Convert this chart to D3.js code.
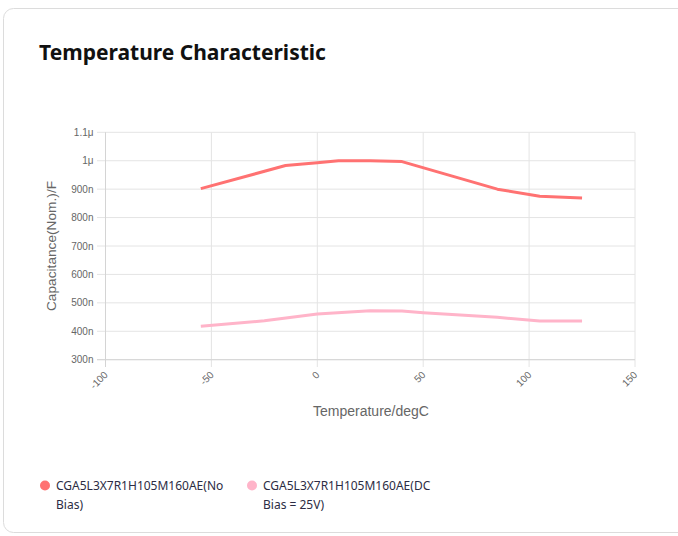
<!DOCTYPE html>
<html><head><meta charset="utf-8">
<script src="https://cdn.jsdelivr.net/npm/d3@7/dist/d3.min.js"></script>
<style>
body{margin:0;background:#fff;}
svg{display:block;}
</style></head>
<body>
<svg id="c" width="678" height="536"></svg>
<script>
const title = "Temperature Characteristic";
const xTicks = [-100, -50, 0, 50, 100, 150];
const yTicks = [300e-9, 400e-9, 500e-9, 600e-9, 700e-9, 800e-9, 900e-9, 1e-6, 1.1e-6];
const yTickLabels = ["300n","400n","500n","600n","700n","800n","900n","1μ","1.1μ"];
const seriesNames = ["CGA5L3X7R1H105M160AE(No Bias)", "CGA5L3X7R1H105M160AE(DC Bias = 25V)"];
const tempNoBias = [-55, -15, 0, 10, 25, 40, 85, 105, 125];
const capNoBias = [902e-9, 983e-9, 993e-9, 1000e-9, 1000e-9, 997e-9, 900e-9, 875e-9, 869e-9];
const tempDC = [-55, -25, 0, 25, 40, 50, 85, 105, 125];
const capDC = [418e-9, 437e-9, 461e-9, 472e-9, 471e-9, 465e-9, 449e-9, 436e-9, 436e-9];
const colors = ["#ff7272", "#ffb4c9"];

const svg = d3.select("#c");
// card
svg.append("rect").attr("x",3.5).attr("y",8.5).attr("width",700).attr("height",524)
  .attr("rx",10).attr("fill","#fff").attr("stroke","#dcdcdc");
svg.append("text").attr("x",39).attr("y",60).text(title)
  .attr("font-family","'Noto Sans', 'Open Sans', sans-serif").attr("font-weight","bold")
  .attr("font-size",21).attr("fill","#111");

const x = d3.scaleLinear().domain([-100,150]).range([105.5,635]);
const y = d3.scaleLinear().domain([300e-9,1.1e-6]).range([359.7,132.3]);
const g = svg.append("g");
const font = "'Liberation Sans', Arial, sans-serif";

// grid
g.selectAll(".gx").data(xTicks).join("line")
  .attr("x1",d=>x(d)).attr("x2",d=>x(d)).attr("y1",132.3).attr("y2",367)
  .attr("stroke","#e4e4e4").attr("stroke-width",1);
g.selectAll(".gy").data(yTicks).join("line")
  .attr("x1",97).attr("x2",635).attr("y1",d=>y(d)).attr("y2",d=>y(d))
  .attr("stroke","#e4e4e4").attr("stroke-width",1);
// axis borders
g.append("line").attr("x1",x(-100)).attr("x2",x(-100)).attr("y1",132.3).attr("y2",367).attr("stroke","#d4d4d4");
g.append("line").attr("x1",97).attr("x2",635).attr("y1",y(300e-9)).attr("y2",y(300e-9)).attr("stroke","#d4d4d4");

// y labels
g.selectAll(".yl").data(yTicks).join("text")
  .attr("x",93.5).attr("y",d=>y(d)+3.5).attr("text-anchor","end")
  .attr("font-family",font).attr("font-size",10).attr("fill","#666")
  .text((d,i)=>yTickLabels[i]);
// x labels rotated
g.selectAll(".xl").data(xTicks).join("text")
  .attr("transform",d=>`translate(${x(d)+0.5},${373}) rotate(-45)`)
  .attr("text-anchor","end").attr("dy","0.35em")
  .attr("font-family",font).attr("font-size",10).attr("fill","#666")
  .text(d=>d);

// axis titles
g.append("text").attr("transform","translate(56,246) rotate(-90)")
  .attr("text-anchor","middle").attr("font-family",font).attr("font-size",13.7).attr("fill","#666")
  .text("Capacitance(Nom.)/F");
g.append("text").attr("x",371).attr("y",416).attr("text-anchor","middle")
  .attr("font-family",font).attr("font-size",14).attr("fill","#666")
  .text("Temperature/degC");

// lines
const line = d3.line().x(d=>x(d[0])).y(d=>y(d[1]));
const data = [d3.zip(tempNoBias, capNoBias), d3.zip(tempDC, capDC)];
data.forEach((d,i)=>{
  g.append("path").datum(d).attr("d",line).attr("fill","none")
   .attr("stroke",colors[i]).attr("stroke-width",3).attr("stroke-linejoin","round");
});

// legend
const lfont = "'Noto Sans', 'Open Sans', sans-serif";
const legendX = [45, 252];
const legendLines = [["CGA5L3X7R1H105M160AE(No","Bias)"],["CGA5L3X7R1H105M160AE(DC","Bias = 25V)"]];
legendLines.forEach((ls,i)=>{
  g.append("circle").attr("cx",legendX[i]).attr("cy",485.5).attr("r",5).attr("fill",colors[i]);
  ls.forEach((t,j)=>{
    g.append("text").attr("x",legendX[i]+11).attr("y",490+j*19).text(t)
     .attr("font-family",lfont).attr("font-size",12).attr("fill","#2c2c44");
  });
});
</script>
</body></html>
